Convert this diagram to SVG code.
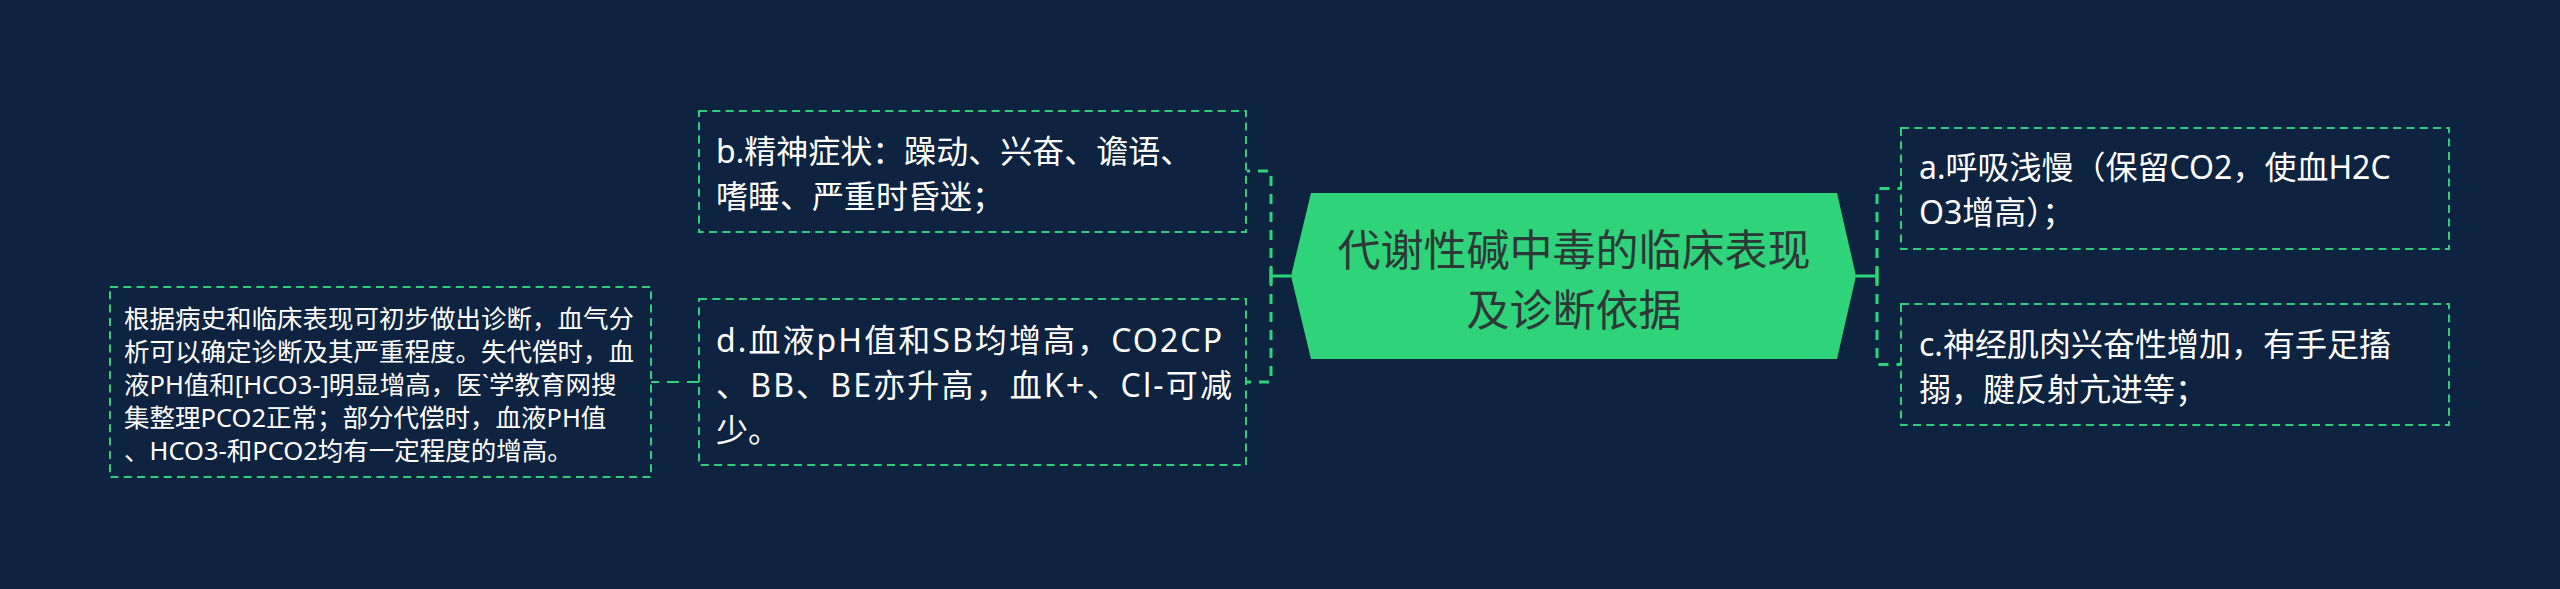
<svg xmlns="http://www.w3.org/2000/svg" width="2560" height="589" viewBox="0 0 2560 589">
<style>
.box{fill:none;stroke:#2ecf78;stroke-width:2;stroke-dasharray:8 5.3}
.t{font-family:"Noto Sans","Noto Sans CJK SC",sans-serif;fill:#ffffff;dominant-baseline:central}
.t33{font-size:32px}
.t25{font-size:25.5px}
.ctr{font-family:"Noto Sans CJK SC","Noto Sans",sans-serif;font-size:43px;fill:#2d3936;text-anchor:middle;dominant-baseline:central}
.solid{fill:none;stroke:#2ed47a;stroke-width:3}
.dash{fill:none;stroke:#2ed47a;stroke-width:3;stroke-dasharray:10 8}
.dash2{fill:none;stroke:#2ed47a;stroke-width:2;stroke-dasharray:12 8}
</style>
<rect x="0" y="0" width="2560" height="589" fill="#0d233f"/>
<g id="connectors">
<path class="solid" d="M1291,276 H1271 M1271,268 V284"/>
<path class="dash" d="M1271,276 V171 H1247"/>
<path class="dash" d="M1271,276 V382 H1247"/>
<path class="solid" d="M1856,276 H1877 M1877,268 V284"/>
<path class="dash" d="M1877,276 V188.5 H1901"/>
<path class="dash" d="M1877,276 V364.5 H1901"/>
<path class="dash2" d="M699,382 H651"/>
</g>
<g id="center">
<polygon points="1291,276 1311,193 1837,193 1856,276 1837,359 1311,359" fill="#2fd47a"/>
<text class="ctr" x="1574" y="247">代谢性碱中毒的临床表现</text>
<text class="ctr" x="1574" y="307">及诊断依据</text>
</g>
<g id="node-b">
<rect class="box" x="699" y="111" width="547" height="121"/>
<text class="t t33" x="716" y="150">b.精神症状：躁动、兴奋、谵语、</text>
<text class="t t33" x="716" y="195">嗜睡、严重时昏迷；</text>
</g>
<g id="node-d">
<rect class="box" x="699" y="299" width="547" height="166"/>
<text class="t t33" x="716" y="339" textLength="506" lengthAdjust="spacing">d.血液pH值和SB均增高，CO2CP</text>
<text class="t t33" x="716" y="384" textLength="516" lengthAdjust="spacing">、BB、BE亦升高，血K+、Cl-可减</text>
<text class="t t33" x="716" y="429">少。</text>
</g>
<g id="node-diag">
<rect class="box" x="110" y="287" width="541" height="190"/>
<text class="t t25" x="124" y="318">根据病史和临床表现可初步做出诊断，血气分</text>
<text class="t t25" x="124" y="351">析可以确定诊断及其严重程度。失代偿时，血</text>
<text class="t t25" x="124" y="384">液PH值和[HCO3-]明显增高，医`学教育网搜</text>
<text class="t t25" x="124" y="417">集整理PCO2正常；部分代偿时，血液PH值</text>
<text class="t t25" x="124" y="450">、HCO3-和PCO2均有一定程度的增高。</text>
</g>
<g id="node-a">
<rect class="box" x="1901" y="128" width="548" height="121"/>
<text class="t t33" x="1919" y="166">a.呼吸浅慢（保留CO2，使血H2C</text>
<text class="t t33" x="1919" y="211">O3增高）；</text>
</g>
<g id="node-c">
<rect class="box" x="1901" y="304" width="548" height="121"/>
<text class="t t33" x="1919" y="343">c.神经肌肉兴奋性增加，有手足搐</text>
<text class="t t33" x="1919" y="388">搦，腱反射亢进等；</text>
</g>
</svg>
